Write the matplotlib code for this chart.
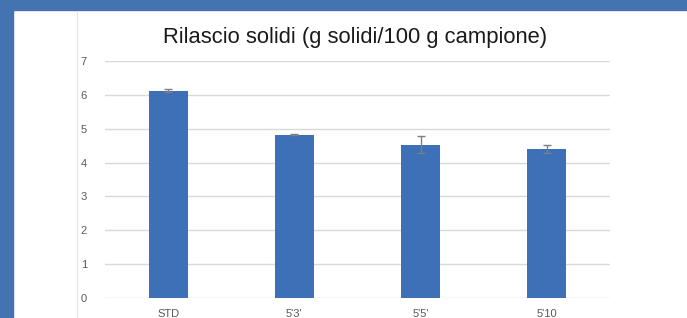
import matplotlib.pyplot as plt
import matplotlib.patches as mpatches
from matplotlib.lines import Line2D

# data
categories = ["STD", "5'3'", "5'5'", "5'10"]
values = [6.12, 4.82, 4.53, 4.40]
errors = [0.05, 0.02, 0.25, 0.13]

plt.rcParams['font.family'] = ['Liberation Sans', 'DejaVu Sans']

fig = plt.figure(figsize=(6.87, 3.18), dpi=100)
W, H = 687, 318

# blue frame of the screenshot (top band + left band) and thin chart border
fig.patches.append(mpatches.Rectangle((0, 1 - 10 / H), 1, 10 / H, transform=fig.transFigure,
                                      color='#4373b0', zorder=0))
fig.patches.append(mpatches.Rectangle((0, 0), 13 / W, 1, transform=fig.transFigure,
                                      color='#4373b0', zorder=0))
fig.lines.append(Line2D([77 / W, 77 / W], [0, 1 - 11 / H], transform=fig.transFigure,
                        color='#e4e4e4', lw=0.8))

ax = fig.add_axes([105 / W, 1 - 298 / H, 505 / W, 237 / H])
x = range(len(categories))
ax.bar(x, values, width=0.31, color='#3e70b8', zorder=2,
       yerr=errors, error_kw=dict(ecolor='#7f7f7f', elinewidth=1, capsize=3, capthick=1))

ax.set_xlim(-0.5, len(categories) - 0.5)
ax.set_ylim(0, 7)
ax.set_yticks(range(0, 8))
ax.set_xticks(list(x))
ax.set_xticklabels(categories)
ax.yaxis.grid(color='#d9d9d9', linewidth=1)
ax.set_axisbelow(True)
for s in ax.spines.values():
    s.set_visible(False)
ax.tick_params(length=0, labelsize=8, labelcolor='#595959')
ax.tick_params(axis='y', pad=13)
ax.tick_params(axis='x', pad=8)

fig.text(355 / W, 1 - 37 / H, 'Rilascio solidi (g solidi/100 g campione)',
         ha='center', va='center', fontsize=15.8, color='#1a1a1a')

fig.savefig('out.png', dpi=100)
